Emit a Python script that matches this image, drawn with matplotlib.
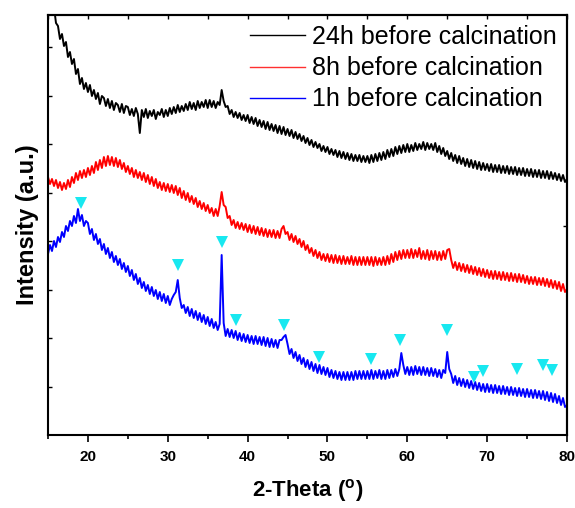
import numpy as np
import matplotlib
matplotlib.use("Agg")
import matplotlib.pyplot as plt
from matplotlib.lines import Line2D

plt.rcParams['font.family'] = ['Liberation Sans', 'DejaVu Sans']

# 2-theta sampling grid (degrees)
two_theta = np.arange(15.0, 80.0001, 0.25)

# intensities (a.u.), 24h sample
black_24h = [
    455, 446, 432, 428, 412, 409, 396, 401, 389, 393, 378, 383, 371, 376, 361, 366, 351, 357, 346, 352,
    343, 350, 339, 345, 336, 342, 331, 339, 337, 329, 336, 327, 334, 325, 332, 330, 323, 331, 322, 329,
    328, 320, 326, 319, 327, 321, 302, 325, 318, 326, 317, 324, 319, 325, 316, 323, 320, 326, 318, 325,
    319, 327, 321, 328, 322, 330, 323, 329, 324, 331, 325, 333, 326, 332, 325, 334, 327, 333, 328, 335,
    327, 335, 328, 334, 327, 333, 330, 345, 334, 328, 329, 321, 325, 318, 323, 317, 322, 315, 320, 314,
    320, 312, 318, 311, 317, 309, 315, 308, 314, 306, 313, 305, 311, 304, 310, 302, 309, 301, 308, 300,
    306, 299, 305, 297, 303, 296, 301, 294, 299, 292, 297, 290, 295, 288, 293, 287, 291, 284, 289, 283,
    288, 281, 286, 280, 285, 278, 284, 277, 283, 276, 282, 275, 281, 274, 280, 274, 280, 273, 279, 273,
    279, 272, 280, 273, 281, 274, 282, 275, 283, 276, 285, 278, 286, 279, 288, 281, 289, 282, 290, 283,
    291, 283, 290, 284, 292, 285, 291, 286, 293, 285, 292, 286, 291, 285, 292, 283, 289, 281, 287, 279,
    284, 276, 282, 274, 280, 272, 279, 271, 277, 269, 276, 268, 275, 267, 274, 266, 273, 265, 272, 265,
    271, 264, 271, 263, 270, 263, 270, 262, 269, 262, 269, 261, 268, 261, 268, 260, 267, 260, 267, 259,
    266, 259, 266, 258, 265, 258, 265, 257, 264, 257, 264, 256, 263, 256, 262, 255, 261, 254, 260, 253,
    256,
]

# 8h sample
red_8h = [
    258, 251, 256, 249, 255, 247, 253, 245, 252, 246, 255, 248, 258, 252, 262, 255, 264, 257, 265, 258,
    267, 260, 269, 262, 273, 265, 275, 267, 278, 269, 279, 270, 278, 269, 277, 268, 275, 266, 272, 263,
    269, 261, 267, 258, 265, 257, 263, 255, 262, 253, 260, 251, 258, 249, 256, 247, 253, 245, 252, 244,
    251, 243, 250, 242, 249, 240, 247, 237, 244, 235, 242, 233, 239, 231, 237, 228, 234, 226, 232, 224,
    230, 222, 227, 219, 226, 219, 229, 243, 230, 228, 217, 219, 210, 215, 207, 213, 206, 212, 205, 211,
    203, 210, 202, 209, 201, 208, 200, 207, 199, 206, 198, 205, 198, 205, 197, 204, 197, 206, 209, 201,
    203, 195, 201, 193, 199, 191, 196, 188, 194, 185, 190, 182, 187, 179, 185, 177, 183, 175, 181, 174,
    181, 173, 180, 172, 180, 172, 179, 171, 179, 171, 178, 171, 179, 170, 178, 170, 178, 170, 178, 170,
    178, 170, 178, 169, 178, 170, 177, 170, 178, 170, 179, 171, 181, 173, 183, 175, 184, 176, 185, 177,
    185, 177, 186, 177, 185, 178, 187, 176, 184, 176, 185, 175, 184, 176, 184, 175, 183, 175, 184, 176,
    185, 186, 175, 167, 173, 165, 172, 164, 171, 163, 170, 162, 169, 161, 168, 160, 167, 159, 166, 158,
    165, 157, 164, 156, 164, 156, 163, 155, 163, 155, 162, 154, 162, 154, 161, 153, 161, 153, 160, 152,
    159, 151, 158, 151, 158, 150, 157, 150, 157, 149, 156, 148, 155, 147, 154, 146, 153, 144, 151, 143,
    146,
]

# 1h sample
blue_1h = [
    181, 190, 184, 194, 188, 198, 193, 203, 198, 209, 204, 214, 209, 219, 212, 226, 214, 220, 209, 214,
    212, 201, 206, 195, 201, 191, 196, 185, 191, 181, 187, 177, 183, 173, 179, 170, 176, 166, 172, 163,
    169, 159, 165, 155, 161, 151, 157, 147, 153, 144, 150, 141, 148, 139, 145, 136, 143, 134, 141, 132,
    139, 130, 136, 140, 143, 155, 137, 127, 130, 122, 128, 119, 126, 117, 124, 115, 122, 113, 120, 111,
    118, 109, 116, 107, 113, 105, 111, 180, 112, 99, 106, 98, 105, 97, 104, 95, 102, 94, 101, 93,
    100, 92, 99, 91, 99, 91, 98, 90, 98, 89, 97, 88, 96, 88, 95, 87, 95, 95, 98, 100,
    91, 81, 86, 77, 83, 74, 80, 71, 77, 68, 75, 66, 73, 64, 71, 62, 70, 61, 68, 60,
    67, 58, 65, 57, 64, 56, 63, 55, 63, 55, 63, 55, 63, 55, 64, 56, 64, 56, 64, 56,
    64, 56, 65, 56, 64, 57, 65, 56, 64, 56, 65, 57, 65, 58, 66, 59, 66, 82, 70, 61,
    68, 60, 68, 60, 69, 61, 68, 60, 68, 60, 67, 59, 67, 59, 66, 58, 65, 57, 65, 62,
    83, 66, 61, 52, 59, 50, 57, 49, 56, 48, 55, 47, 54, 46, 53, 45, 52, 44, 51, 43,
    51, 43, 50, 42, 50, 42, 49, 41, 49, 41, 48, 40, 48, 40, 47, 39, 47, 39, 46, 38,
    46, 38, 45, 37, 45, 37, 44, 36, 44, 35, 43, 34, 42, 33, 41, 32, 39, 30, 37, 28,
    30,
]

# peak markers
marker_x = [19.1, 31.25, 36.75, 38.5, 44.6, 49.0, 55.5, 59.1, 65.0, 68.4, 69.5, 73.75, 77.0, 78.1]
marker_y = [232, 170, 193, 115, 110, 78, 76, 95, 105, 58, 64, 66, 70, 65]

series_labels = ["24h before calcination", "8h before calcination", "1h before calcination"]
xticks = [20, 30, 40, 50, 60, 70, 80]

fig = plt.figure(figsize=(5.75, 5.08), dpi=100)
ax = fig.add_axes([48/575, 1 - 435/508, (567-48)/575, (435-15)/508])

ax.plot(two_theta, black_24h, color='black', lw=1.4)
ax.plot(two_theta, red_8h, color='#ff0000', lw=1.4)
ax.plot(two_theta, blue_1h, color='#0000ff', lw=1.4)
ax.plot(marker_x, marker_y, linestyle='none', marker='v', markersize=9,
        color='#18e8f0', markeredgewidth=0, zorder=5)

ax.set_xlim(15, 80)
ax.set_ylim(0, 420)
ax.set_xticks(xticks)
ax.set_xticks(np.arange(15, 81, 5), minor=True)
ax.set_yticks([48.5*k for k in range(1, 9)])
ax.set_yticklabels([])
ax.tick_params(axis='x', which='major', direction='out', length=5, width=1.2, pad=6,
               labelsize=11)
ax.tick_params(axis='x', which='minor', direction='out', length=3, width=1.2)
ax.tick_params(axis='y', which='major', direction='in', length=3, width=1.0)
for lbl in ax.get_xticklabels():
    lbl.set_fontweight('bold')
for s in ax.spines.values():
    s.set_linewidth(1.5)

secx = ax.secondary_xaxis('top')
secx.set_xticks(np.arange(15, 81, 5))
secx.tick_params(direction='in', length=3, width=1.0, labeltop=False)
secx.spines['top'].set_linewidth(1.5)

secy = ax.secondary_yaxis('right')
secy.set_yticks([209])
secy.tick_params(direction='in', length=3, width=1.0, labelright=False)
secy.spines['right'].set_linewidth(1.5)

ax.set_xlabel(r'2-Theta ($\mathregular{^o}$)', fontsize=16, fontweight='bold', labelpad=9)
ax.set_ylabel('Intensity (a.u.)', fontsize=17, fontweight='bold', labelpad=3)

handles = [Line2D([], [], color='black', lw=1.0),
           Line2D([], [], color='#ff3030', lw=1.0),
           Line2D([], [], color='#0000ff', lw=1.0)]
leg = ax.legend(handles, series_labels, loc='upper left',
                bbox_to_anchor=(250/575, 1 - 25/508), bbox_transform=fig.transFigure,
                frameon=False, fontsize=18, handlelength=2.2, handletextpad=0.3,
                labelspacing=0.29, borderpad=0, borderaxespad=0)

fig.savefig('out.png', dpi=100)
